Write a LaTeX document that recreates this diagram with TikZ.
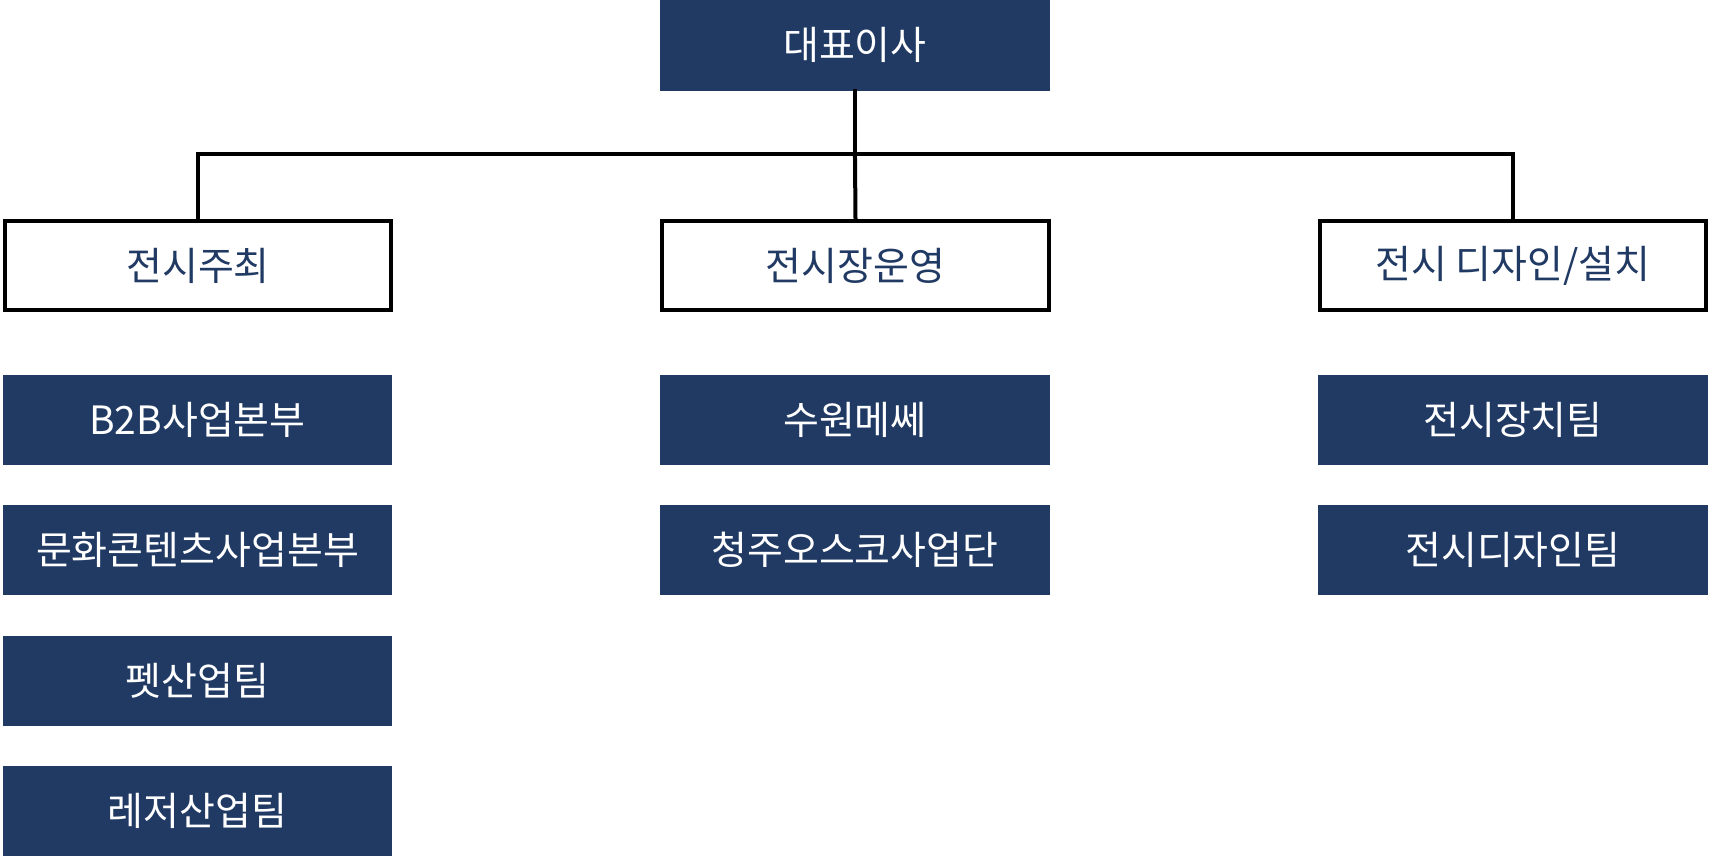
\documentclass[tikz,border=0pt]{standalone}
\usepackage{fontspec}
\setmainfont{Noto Sans CJK KR}
\definecolor{navy}{HTML}{213A64}
\begin{document}
\begin{tikzpicture}[x=1.091pt,y=-1.091pt,line cap=rect]
	\tikzstyle{tile}=[fill=navy,text=white,minimum width=389.5pt,minimum height=90.5pt,inner sep=0pt,font=\fontsize{39}{46}\selectfont];
	\tikzstyle{dept}=[draw=black,line width=4pt,fill=white,text=navy,minimum width=386pt,minimum height=89pt,inner sep=0pt,font=\fontsize{39}{46}\selectfont];
	\tikzstyle{link}=[line width=4pt,draw=black];
	\useasboundingbox (0,0) rectangle (1568,786.5);

	\node[tile] (ceo) at (783.5,41.5) {대표이사};
	\coordinate (bus) at (783.5,141);

	\node[dept] (host) at (181.5,243.5) {전시주최};
	\node[dept] (hall) at (784,243.5) {전시장운영};
	\node[dept] (design) at (1386.5,243.5) {전시 디자인/설치};

	\draw[link] (ceo.south) -- (bus);
	\draw[link] (host.north) |- (bus) -| (design.north);
	\draw[link] (bus) -- (hall.north);

	\node[tile] (b2b) at (181,385) {B2B사업본부};
	\node[tile] (culture) at (181,504) {문화콘텐츠사업본부};
	\node[tile] (pet) at (181,624) {펫산업팀};
	\node[tile] (leisure) at (181,743) {레저산업팀};

	\node[tile] (suwon) at (783.5,385) {수원메쎄};
	\node[tile] (oscov) at (783.5,504) {청주오스코사업단};

	\node[tile] (equip) at (1386.5,385) {전시장치팀};
	\node[tile] (dteam) at (1386.5,504) {전시디자인팀};
\end{tikzpicture}
\end{document}
